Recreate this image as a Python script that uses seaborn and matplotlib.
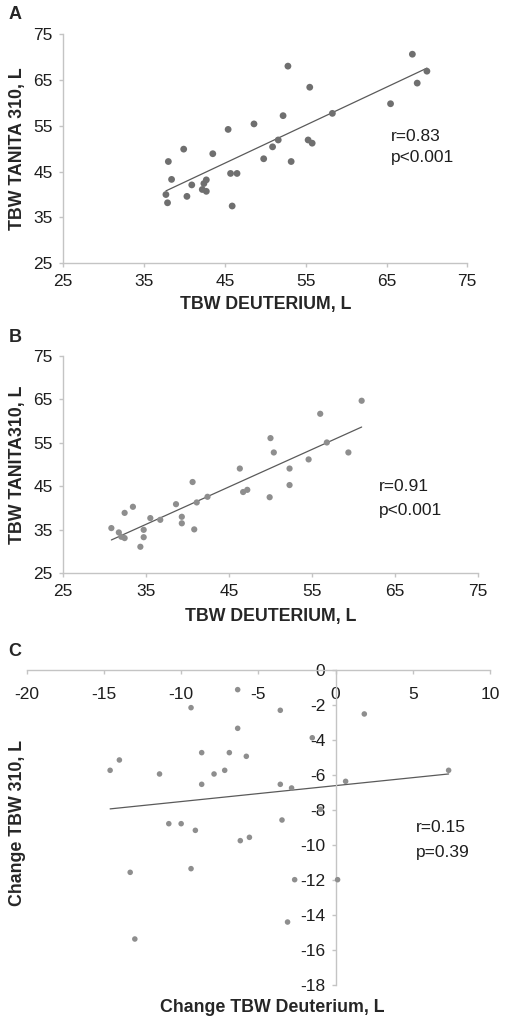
import numpy as np
import pandas as pd
import matplotlib
matplotlib.use("Agg")
import matplotlib.pyplot as plt
import seaborn as sns

# Panel A: TBW deuterium vs Tanita 310 (L)
a_deut = [37.7, 37.9, 38.0, 38.4, 39.9, 40.3, 40.9, 42.2, 42.4, 42.7, 42.7, 43.5,
          45.4, 45.7, 46.5, 45.9, 48.6, 49.8, 50.9, 51.6, 52.2, 52.8, 53.2, 55.3,
          55.5, 55.8, 58.3, 65.5, 68.2, 68.8, 70.0]
a_tanita = [40.0, 38.2, 47.2, 43.3, 49.9, 39.6, 42.1, 41.1, 42.4, 43.2, 40.7, 48.9,
            54.2, 44.6, 44.6, 37.5, 55.4, 47.8, 50.4, 51.9, 57.2, 68.0, 47.2, 51.9,
            63.4, 51.2, 57.7, 59.8, 70.6, 64.3, 66.9]

# Panel B
b_deut = [30.8, 31.7, 32.0, 32.4, 32.4, 33.4, 34.3, 34.7, 34.7, 35.5, 36.7, 38.6,
          39.3, 39.3, 40.6, 40.8, 41.1, 42.4, 46.3, 46.7, 47.2, 49.9, 50.0, 50.4,
          52.3, 52.3, 54.6, 56.0, 56.8, 59.4, 61.0]
b_tanita = [35.4, 34.4, 33.4, 33.1, 38.9, 40.3, 31.1, 35.0, 33.3, 37.7, 37.3, 40.9,
            38.0, 36.5, 46.0, 35.1, 41.3, 42.6, 49.1, 43.7, 44.2, 42.5, 56.1, 52.8,
            49.1, 45.3, 51.2, 61.7, 55.1, 52.8, 64.7]

# Panel C: changes (L)
c_deut = [-14.6, -14.0, -13.3, -13.0, -11.4, -10.8, -10.0, -9.36, -9.36, -9.08,
          -8.67, -8.67, -7.87, -7.18, -6.88, -6.34, -6.34, -6.17, -5.78, -5.58,
          -3.58, -3.58, -3.47, -3.11, -2.85, -2.65, -1.51, -0.97, 0.13, 0.65,
          1.86, 7.32]
c_tanita = [-5.73, -5.14, -11.56, -15.37, -5.94, -8.78, -8.78, -2.15, -11.35, -9.16,
            -4.72, -6.53, -5.94, -5.73, -4.72, -1.12, -3.33, -9.75, -4.93, -9.56,
            -2.30, -6.53, -8.57, -14.4, -6.74, -11.98, -3.87, -7.96, -11.98, -6.36,
            -2.51, -5.73]

ab_ticks = [25, 35, 45, 55, 65, 75]
c_xticks = [-20, -15, -10, -5, 0, 5, 10]
c_yticks = [0, -2, -4, -6, -8, -10, -12, -14, -16, -18]

sns.set_style("white")
plt.rcParams['font.family'] = ['Liberation Sans', 'DejaVu Sans']

fig = plt.figure(figsize=(5.08, 10.25), dpi=100)
ax_a = fig.add_axes([0.1246, 0.7431, 0.7953, 0.2237])
ax_b = fig.add_axes([0.1246, 0.4407, 0.8157, 0.2120])
ax_c = fig.add_axes([0.0526, 0.0390, 0.9120, 0.3073])

spine_col = '#c4c4c4'
line_col = '#5a5a5a'
txt_col = '#1e1e1e'
tick_fs = 12.5
lab_fs = 12.8


def style_axes(ax):
    for s in ['top', 'right']:
        ax.spines[s].set_visible(False)
    for s in ['left', 'bottom']:
        ax.spines[s].set_color(spine_col)
        ax.spines[s].set_linewidth(1.0)
    ax.tick_params(axis='both', direction='out', length=3, width=1.0,
                   color=spine_col, labelsize=tick_fs, labelcolor=txt_col, pad=4.5,
                   bottom=True, left=True)


def add_stats(ax, x, y_r, y_p, r_txt, p_txt):
    ax.text(x, y_r, r_txt, fontsize=tick_fs, va='baseline', ha='left', color=txt_col)
    ax.text(x, y_p, p_txt, fontsize=tick_fs, va='baseline', ha='left', color=txt_col)


# A
df_a = pd.DataFrame({'deut': a_deut, 'tanita': a_tanita})
sns.scatterplot(data=df_a, x='deut', y='tanita', ax=ax_a, color='#6f6f6f',
                s=24, edgecolor='none', zorder=3)
sns.regplot(data=df_a, x='deut', y='tanita', ax=ax_a, scatter=False, ci=None,
            line_kws={'color': line_col, 'linewidth': 0.9})
ax_a.set_xlim(25, 75)
ax_a.set_ylim(25, 75)
ax_a.set_xticks(ab_ticks)
ax_a.set_yticks(ab_ticks)
style_axes(ax_a)
ax_a.set_xlabel("TBW DEUTERIUM, L", fontsize=lab_fs, fontweight='bold', labelpad=5)
ax_a.set_ylabel("TBW TANITA 310, L", fontsize=lab_fs, fontweight='bold', labelpad=5)
add_stats(ax_a, 65.6, 51.7, 47.15, "r=0.83", "p<0.001")

# B
df_b = pd.DataFrame({'deut': b_deut, 'tanita': b_tanita})
sns.scatterplot(data=df_b, x='deut', y='tanita', ax=ax_b, color='#8e8e8e',
                s=20, edgecolor='none', zorder=3)
sns.regplot(data=df_b, x='deut', y='tanita', ax=ax_b, scatter=False, ci=None,
            line_kws={'color': line_col, 'linewidth': 0.9})
ax_b.set_xlim(25, 75)
ax_b.set_ylim(25, 75)
ax_b.set_xticks(ab_ticks)
ax_b.set_yticks(ab_ticks)
style_axes(ax_b)
ax_b.set_xlabel("TBW DEUTERIUM, L", fontsize=lab_fs, fontweight='bold', labelpad=7)
ax_b.set_ylabel("TBW TANITA310, L", fontsize=lab_fs, fontweight='bold', labelpad=5)
add_stats(ax_b, 63.1, 44.0, 38.3, "r=0.91", "p<0.001")

# C
df_c = pd.DataFrame({'deut': c_deut, 'tanita': c_tanita})
sns.scatterplot(data=df_c, x='deut', y='tanita', ax=ax_c, color='#8e8e8e',
                s=16, edgecolor='none', zorder=3)
sns.regplot(data=df_c, x='deut', y='tanita', ax=ax_c, scatter=False, ci=None,
            line_kws={'color': line_col, 'linewidth': 0.9})
ax_c.set_xlim(-20, 10)
ax_c.set_ylim(-18, 0)
ax_c.set_xticks(c_xticks)
ax_c.set_yticks(c_yticks)
ax_c.set_xticklabels([str(t) for t in c_xticks])
ax_c.set_yticklabels([str(t) for t in c_yticks])
style_axes(ax_c)
ax_c.tick_params(axis='x', pad=9)
ax_c.spines['left'].set_position(('data', 0))
ax_c.spines['bottom'].set_position(('data', 0))
ax_c.set_xlabel("")
ax_c.set_ylabel("")
add_stats(ax_c, 5.19, -9.28, -10.7, "r=0.15", "p=0.39")
fig.text(0.536, 1 - 1008 / 1025, "Change TBW Deuterium, L", fontsize=lab_fs,
         fontweight='bold', ha='center', va='center')
fig.text(0.034, 1 - 823 / 1025, "Change TBW 310, L", fontsize=lab_fs,
         fontweight='bold', ha='center', va='center', rotation=90)

# Panel letters
for lab, ypx in [("A", 14.5), ("B", 337), ("C", 651)]:
    fig.text(15 / 508, 1 - ypx / 1025, lab, fontsize=13, fontweight='bold',
             ha='center', va='center')

fig.savefig("out.png", dpi=100)
